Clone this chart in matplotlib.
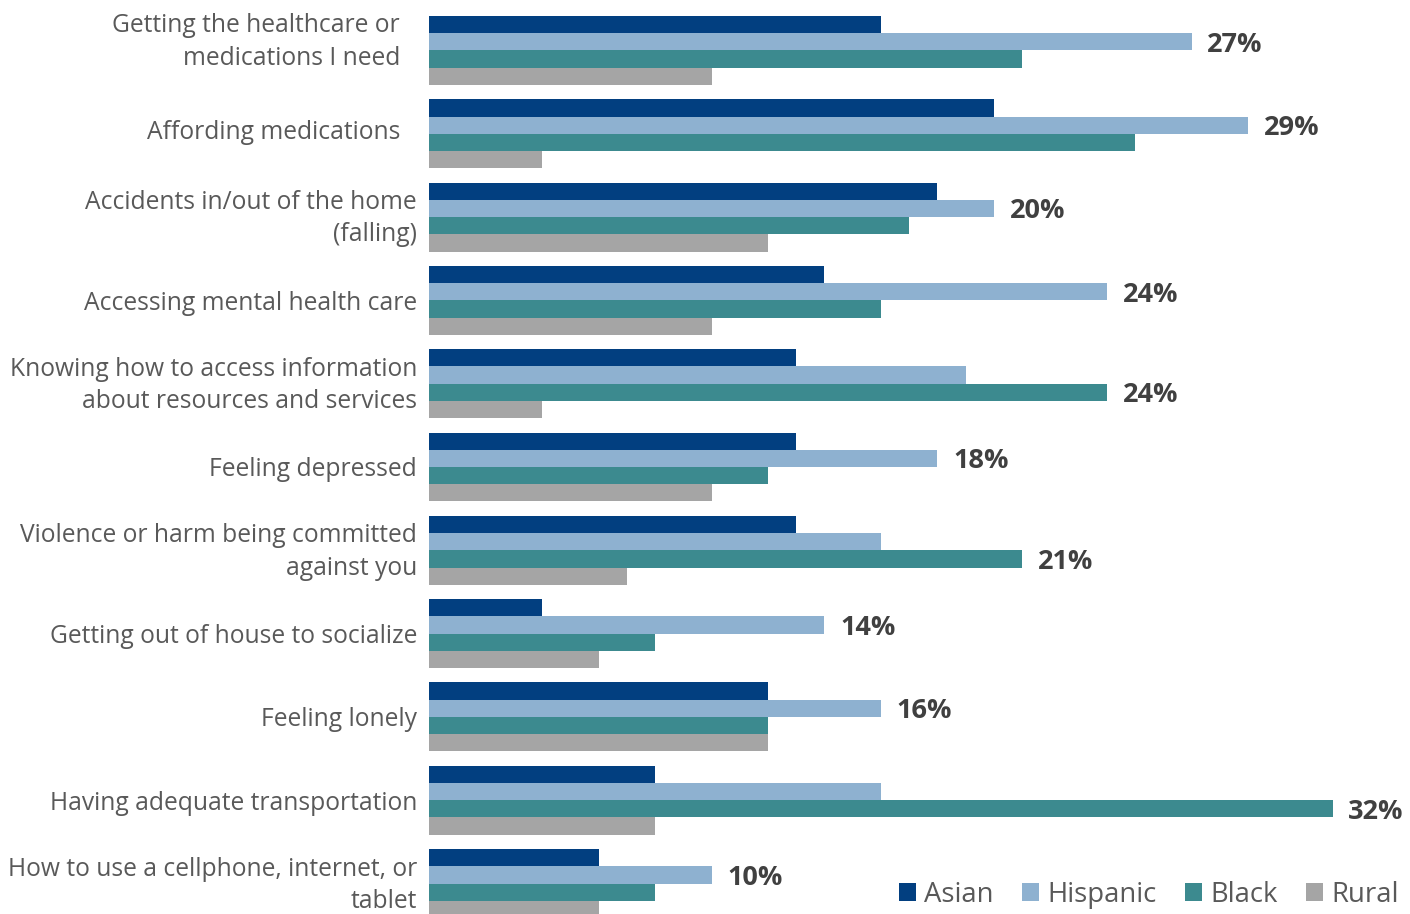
import numpy as np
import matplotlib.pyplot as plt
from matplotlib.transforms import offset_copy

plt.rcParams['font.family'] = ['Open Sans', 'DejaVu Sans']

categories = [
    "Getting the healthcare or\nmedications I need",
    "Affording medications",
    "Accidents in/out of the home\n(falling)",
    "Accessing mental health care",
    "Knowing how to access information\nabout resources and services",
    "Feeling depressed",
    "Violence or harm being committed\nagainst you",
    "Getting out of house to socialize",
    "Feeling lonely",
    "Having adequate transportation",
    "How to use a cellphone, internet, or\ntablet",
]
series = ["Asian", "Hispanic", "Black", "Rural"]
asian = [16, 20, 18, 14, 13, 13, 13, 4, 12, 8, 6]
hispanic = [27, 29, 20, 24, 19, 18, 16, 14, 16, 16, 10]
black = [21, 25, 17, 16, 24, 12, 21, 8, 12, 32, 8]
rural = [10, 4, 12, 10, 4, 10, 7, 6, 12, 8, 6]
colors = ["#023F80", "#8EB1D0", "#3C8A8F", "#A5A5A5"]

data = np.array([asian, hispanic, black, rural])

fig = plt.figure(figsize=(14.1, 9.14), dpi=100)
ax = fig.add_axes([0.3043, 0.0, 0.6957, 1.0])

h = 0.207
y = np.arange(len(categories))
for k, (name, vals, col) in enumerate(zip(series, data, colors)):
    ax.barh(y + (k - 1.5) * h, vals, height=h, color=col, label=name)

# label only the largest bar of each group
for i in range(len(categories)):
    k = int(np.argmax(data[:, i]))
    v = data[k, i]
    ax.text(v + 0.55, y[i] + (k - 1.5) * h, f"{v}%", va="center_baseline", ha="left",
            fontsize=19.5, fontweight="bold", color="#404040")

# category labels (first two sit a bit further left and higher, as in the original)
for i, lab in enumerate(categories):
    dx = -29 if i < 2 else -12
    dy = 0
    if "\n" in lab:
        dy = 5
    if i == 0:
        dy = 15
    if i == 1:
        dy = 4
    tr = offset_copy(ax.get_yaxis_transform(), fig=fig, x=dx, y=dy, units="dots")
    ax.text(0, y[i], lab, transform=tr, ha="right", va="center_baseline", multialignment="right",
            fontsize=17.7, color="#595959", linespacing=1.38)

ax.set_xlim(0, 34.73)
ax.set_ylim(10.366, -0.606)
ax.set_xticks([])
ax.set_yticks([])
for s in ax.spines.values():
    s.set_visible(False)

leg = fig.legend(loc="lower right", bbox_to_anchor=(1.0094, -0.0213), ncol=4, frameon=False,
                 fontsize=19.8, handlelength=0.62, handleheight=0.62, handletextpad=0.28,
                 columnspacing=1.05, labelcolor="#595959")

fig.savefig("out.png", dpi=100)
